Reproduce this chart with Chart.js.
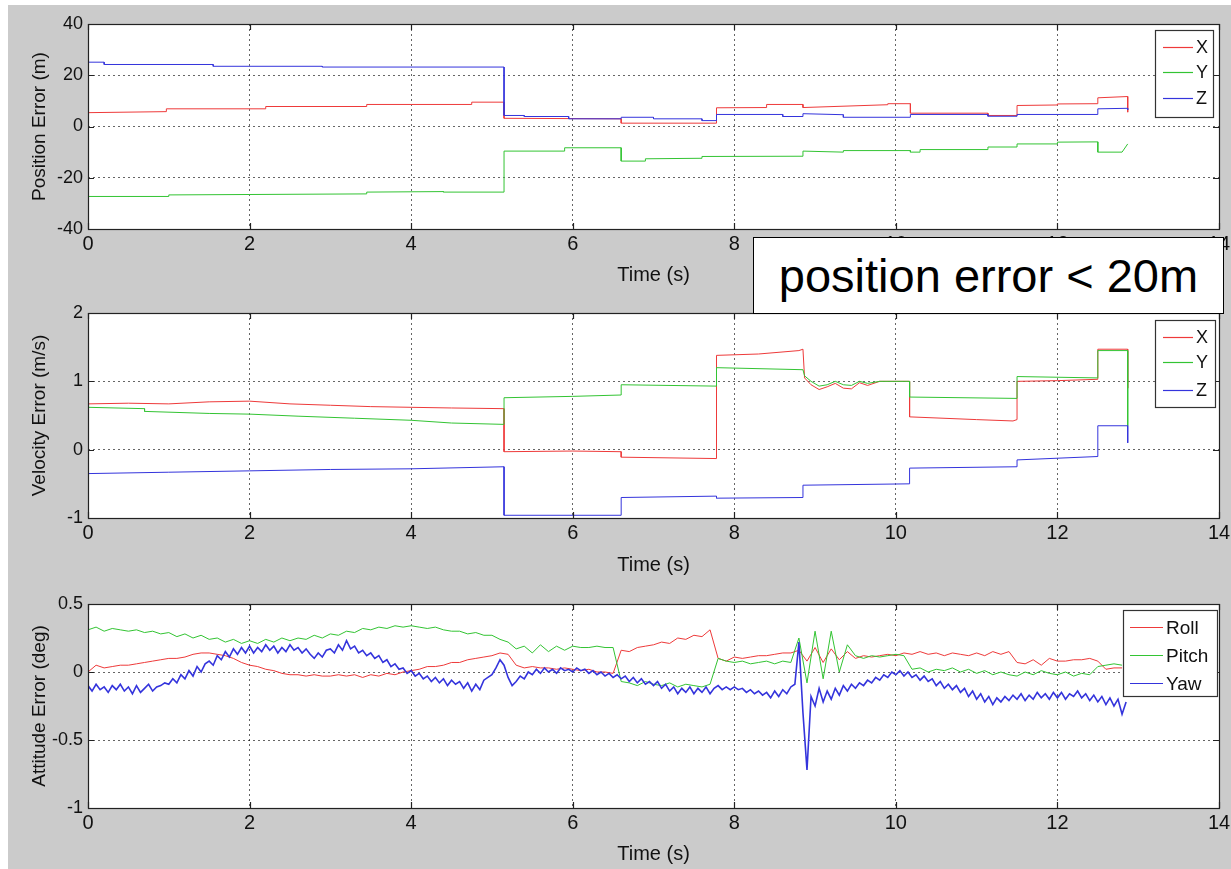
<!DOCTYPE html>
<html>
<head>
<meta charset="utf-8">
<title>Navigation errors</title>
<script src="https://cdn.jsdelivr.net/npm/chart.js@4.4.1/dist/chart.umd.min.js"></script>
<style>
  html,body{margin:0;padding:0;background:#fff;width:1231px;height:869px;overflow:hidden;}
  #fig{position:absolute;left:8px;top:5px;width:1223px;height:864px;background:#cbcbcb;}
  canvas{position:absolute;left:0;}
  #note{position:absolute;left:753px;top:237px;width:469px;height:75px;background:#fff;border:1.5px solid #000;
        font:47px "Liberation Sans",Arial,sans-serif;color:#000;text-align:center;line-height:75px;white-space:nowrap;}
</style>
</head>
<body>
<div id="fig"></div>
<canvas id="c-pos" width="1231" height="290" style="top:0"></canvas>
<canvas id="c-vel" width="1231" height="290" style="top:290px"></canvas>
<canvas id="c-att" width="1231" height="289" style="top:580px"></canvas>
<div id="note">position error &lt; 20m</div>
<script>
/* ---------- data ---------- */
// Position error (m): breakpoints [time s] / value
const posTimeX = [0,0.97,0.97,2.2,2.2,3.45,3.45,4.75,4.75,5.15,5.15,6.6,6.6,7.78,7.78,8.4,8.4,8.85,8.85,9.9,9.9,10.18,10.18,11.14,11.14,11.5,11.5,12.0,12.0,12.5,12.5,12.87,12.87];
const posX     = [5.4,5.8,6.9,6.9,7.8,7.8,8.6,8.6,9.5,9.5,3.2,3.0,1.3,1.3,7.3,7.4,8.6,8.6,7.4,8.5,8.9,8.9,5.2,5.2,4.3,4.3,8.2,8.4,8.8,8.9,11.2,11.7,5.6];
const posTimeY = [0,1.0,1.0,3.45,3.45,4.4,4.4,5.15,5.15,5.9,5.9,6.6,6.6,6.9,6.9,7.6,7.6,8.85,8.85,9.35,9.35,10.18,10.18,10.3,10.3,11.14,11.14,11.5,11.5,12.0,12.0,12.5,12.5,12.8,12.87];
const posY     = [-27.3,-27.3,-26.7,-26.3,-25.6,-25.4,-25.6,-25.6,-9.6,-9.6,-8.3,-8.3,-13.5,-13.5,-12.6,-12.4,-11.7,-11.6,-9.6,-10,-9.4,-9.4,-10,-10,-9,-9,-8,-8,-6.8,-6.8,-6.1,-6.0,-10,-10,-6.8];
const posTimeZ = [0,0.2,0.2,1.55,1.55,2.9,2.9,5.15,5.15,5.4,5.4,5.95,5.95,6.6,6.6,7.0,7.0,7.6,7.6,7.78,7.78,8.6,8.6,8.85,8.85,9.35,9.35,10.18,10.18,11.14,11.14,11.5,11.5,12.5,12.5,12.87,12.87];
const posZ     = [25.1,25.1,24.2,24.2,23.5,23.5,23.2,23.2,4.3,4.3,3.9,3.9,3.0,3.0,3.6,3.6,3.0,3.0,2.3,2.3,4.7,4.7,3.9,3.9,5.0,4.6,3.6,3.6,4.7,4.7,4.0,4.0,4.7,4.7,6.9,7.1,6.5];

// Velocity error (m/s)
const velTimeX = [0,0.5,1.0,1.5,2.0,2.5,3.0,3.5,4.0,4.5,5.15,5.15,6.0,6.6,6.6,7.78,7.78,8.3,8.8,8.85,8.87,8.95,9.05,9.15,9.25,9.35,9.45,9.55,9.65,9.8,10.17,10.17,11.0,11.45,11.5,11.5,12.0,12.5,12.5,12.87,12.87];
const velX     = [0.67,0.68,0.67,0.70,0.71,0.67,0.65,0.63,0.62,0.61,0.60,-0.03,-0.02,-0.03,-0.11,-0.13,1.38,1.40,1.45,1.47,1.05,0.95,0.88,0.92,0.97,0.90,0.89,0.98,0.94,1.0,1.0,0.48,0.44,0.42,0.44,1.0,1.01,1.03,1.47,1.47,0.9];
const velTimeY = [0,0.7,0.7,1.5,2.0,2.6,3.3,4.0,4.5,5.15,5.15,6.0,6.6,6.6,7.78,7.78,8.85,8.87,8.95,9.05,9.15,9.25,9.35,9.45,9.55,9.65,9.8,10.17,10.17,11.5,11.5,12.5,12.5,12.87,12.87];
const velY     = [0.62,0.60,0.56,0.53,0.52,0.49,0.46,0.43,0.39,0.37,0.76,0.78,0.80,0.95,0.93,1.20,1.17,1.08,1.0,0.93,0.95,1.0,0.95,0.94,1.0,0.97,1.0,1.0,0.77,0.75,1.07,1.05,1.45,1.45,0.35];
const velTimeZ = [0,1.0,2.0,3.0,4.0,5.15,5.15,6.6,6.6,7.78,7.78,8.85,8.85,10.17,10.17,11.5,11.5,12.5,12.5,12.87,12.87];
const velZ     = [-0.35,-0.33,-0.31,-0.29,-0.28,-0.25,-0.96,-0.96,-0.70,-0.68,-0.71,-0.70,-0.52,-0.50,-0.27,-0.25,-0.15,-0.10,0.35,0.35,0.10];

// Attitude error (deg), sampled every attRollDt / attYawDt seconds from t=0
const attRollDt = 0.1, attYawDt = 0.05;
const attRoll = [
  0.00,0.05,0.03,0.04,0.05,0.05,0.06,0.07,0.08,0.09,
  0.10,0.10,0.11,0.13,0.14,0.14,0.13,0.12,0.10,0.07,
  0.05,0.04,0.02,0.01,-0.01,-0.02,-0.02,-0.03,-0.02,-0.03,
  -0.03,-0.02,-0.03,-0.02,-0.04,-0.02,-0.03,-0.01,-0.02,0.00,
  0.01,0.02,0.04,0.04,0.05,0.07,0.07,0.09,0.10,0.11,
  0.12,0.14,0.13,0.05,0.03,0.04,0.03,0.03,0.02,0.03,
  0.02,0.01,0.02,0.00,0.00,-0.01,0.16,0.15,0.18,0.19,
  0.20,0.22,0.21,0.25,0.24,0.27,0.26,0.31,0.10,0.08,
  0.11,0.10,0.11,0.12,0.12,0.13,0.14,0.14,0.16,0.08,
  0.18,0.07,0.17,0.09,0.15,0.10,0.12,0.11,0.12,0.13,
  0.12,0.14,0.13,0.15,0.13,0.14,0.12,0.14,0.13,0.12,
  0.14,0.12,0.15,0.13,0.15,0.07,0.06,0.09,0.05,0.10,
  0.08,0.08,0.09,0.09,0.10,0.08,0.02,0.03,0.03
];
const attPitch = [
  0.31,0.33,0.30,0.32,0.31,0.30,0.31,0.29,0.30,0.28,
  0.29,0.26,0.28,0.25,0.27,0.24,0.25,0.22,0.24,0.21,
  0.23,0.21,0.24,0.22,0.25,0.23,0.25,0.24,0.27,0.25,
  0.28,0.27,0.30,0.29,0.32,0.31,0.33,0.32,0.34,0.33,
  0.34,0.33,0.32,0.33,0.31,0.30,0.30,0.28,0.29,0.27,
  0.27,0.24,0.22,0.17,0.19,0.14,0.20,0.15,0.19,0.16,
  0.19,0.18,0.18,0.19,0.18,0.18,-0.07,-0.08,-0.10,-0.07,
  -0.09,-0.10,-0.08,-0.11,-0.09,-0.10,-0.11,-0.09,0.10,0.08,
  0.07,0.08,0.06,0.07,0.08,0.06,0.08,0.07,0.25,-0.08,
  0.30,-0.05,0.30,0.00,0.20,0.12,0.10,0.12,0.11,0.12,
  0.13,0.12,0.02,0.03,0.00,0.02,0.01,0.03,0.00,0.02,
  -0.01,0.01,-0.02,0.00,-0.02,-0.03,0.00,-0.02,0.01,-0.01,
  -0.02,0.00,-0.03,-0.01,-0.02,0.04,0.05,0.06,0.05
];
const attYaw = [
  -0.10,-0.14,-0.09,-0.13,-0.11,-0.15,-0.10,-0.13,-0.09,-0.14,-0.11,-0.16,-0.10,-0.15,-0.12,-0.09,-0.14,-0.11,-0.10,-0.08,
  -0.09,-0.05,-0.08,-0.02,-0.05,0.01,-0.03,0.04,0.00,0.06,0.08,0.05,0.12,0.09,0.15,0.11,0.17,0.13,0.18,0.14,
  0.19,0.14,0.18,0.15,0.20,0.16,0.19,0.14,0.18,0.15,0.20,0.16,0.18,0.14,0.17,0.13,0.10,0.14,0.11,0.16,
  0.17,0.14,0.20,0.16,0.23,0.17,0.19,0.14,0.16,0.12,0.14,0.10,0.12,0.07,0.09,0.04,0.06,0.02,0.03,-0.01,
  0.01,-0.03,-0.01,-0.05,-0.03,-0.07,-0.04,-0.08,-0.05,-0.10,-0.06,-0.09,-0.07,-0.12,-0.08,-0.14,-0.09,-0.13,-0.06,-0.04,
  -0.02,0.03,0.09,0.05,-0.04,-0.10,-0.07,-0.03,-0.05,0.00,-0.02,0.02,-0.01,0.03,0.00,0.02,-0.01,0.03,0.01,0.02,
  0.00,0.03,0.01,0.02,-0.01,0.01,-0.02,0.00,-0.03,-0.01,-0.04,-0.02,-0.05,-0.03,-0.07,-0.04,-0.08,-0.05,-0.09,-0.07,
  -0.10,-0.07,-0.12,-0.09,-0.14,-0.11,-0.16,-0.12,-0.15,-0.11,-0.16,-0.12,-0.15,-0.11,-0.16,-0.12,-0.10,-0.13,-0.11,-0.13,
  -0.11,-0.13,-0.12,-0.15,-0.13,-0.16,-0.14,-0.17,-0.15,-0.19,-0.14,-0.18,-0.13,-0.16,-0.11,-0.09,0.22,-0.30,-0.72,-0.18,
  -0.25,-0.12,-0.22,-0.14,-0.20,-0.12,-0.17,-0.10,-0.14,-0.09,-0.12,-0.08,-0.10,-0.06,-0.08,-0.04,-0.06,-0.02,-0.04,0.00,
  -0.02,0.01,-0.03,0.00,-0.04,-0.02,-0.06,-0.03,-0.07,-0.05,-0.10,-0.07,-0.12,-0.09,-0.13,-0.10,-0.15,-0.12,-0.18,-0.14,
  -0.20,-0.16,-0.22,-0.18,-0.24,-0.19,-0.22,-0.18,-0.21,-0.17,-0.20,-0.16,-0.21,-0.17,-0.20,-0.15,-0.19,-0.16,-0.20,-0.15,
  -0.19,-0.15,-0.20,-0.16,-0.18,-0.14,-0.19,-0.16,-0.21,-0.17,-0.22,-0.18,-0.24,-0.19,-0.25,-0.20,-0.31,-0.22
];

const xTicks = {min:0, max:14, step:2};

/* ---------- look ---------- */
const FONT = '"Liberation Sans", Arial, Helvetica, sans-serif';
const RED = '#ee3a3a', GREEN = '#33c433', BLUE = '#3434dc';

function pts(ts, vs){ return vs.map((v,i) => ({x:ts[i], y:v})); }
function sampled(dt, vs){ return vs.map((v,i) => ({x:+(i*dt).toFixed(2), y:v})); }

// white axes box, matlab frame + inner ticks, boxed legend
const matlabAxes = {
  id:'matlabAxes',
  beforeDraw(chart){
    const a = chart.chartArea, c = chart.ctx;
    c.save(); c.fillStyle = '#fff';
    c.fillRect(a.left, a.top, a.right-a.left, a.bottom-a.top);
    c.restore();
  },
  afterDraw(chart, args, o){
    const a = chart.chartArea, c = chart.ctx;
    c.save();
    c.strokeStyle = '#222'; c.lineWidth = 1.2;
    c.strokeRect(a.left+0.5, a.top+0.5, a.right-a.left, a.bottom-a.top);
    c.beginPath();
    chart.scales.x.ticks.forEach(t => {
      const px = Math.round(chart.scales.x.getPixelForValue(t.value))+0.5;
      c.moveTo(px, a.bottom); c.lineTo(px, a.bottom-6);
      c.moveTo(px, a.top); c.lineTo(px, a.top+6);
    });
    chart.scales.y.ticks.forEach(t => {
      const py = Math.round(chart.scales.y.getPixelForValue(t.value))+0.5;
      c.moveTo(a.left, py); c.lineTo(a.left+6, py);
      c.moveTo(a.right, py); c.lineTo(a.right-6, py);
    });
    c.stroke();
    // legend
    const L = o.legend;
    c.fillStyle = '#fff'; c.fillRect(L.x, L.y, L.w, L.h);
    c.strokeStyle = '#333'; c.lineWidth = 1.2; c.strokeRect(L.x+0.5, L.y+0.5, L.w, L.h);
    c.font = L.size + 'px ' + FONT; c.textBaseline = 'middle'; c.textAlign = 'left';
    chart.data.datasets.forEach((ds, i) => {
      const ry = L.rows[i] + 0.5;
      c.strokeStyle = ds.borderColor; c.lineWidth = 1.2;
      c.beginPath(); c.moveTo(L.x+L.line[0], ry); c.lineTo(L.x+L.line[1], ry); c.stroke();
      c.fillStyle = '#111'; c.fillText(ds.label, L.x+L.line[1]+3, ry+1);
    });
    c.restore();
  }
};

function line(label, data, color, order, width){
  return {label:label, data:data, borderColor:color, backgroundColor:color, borderWidth:width || 1,
          pointRadius:0, tension:0, order:order};
}

function build(id, sets, y, lay){
  const grid = {color:'rgba(0,0,0,0.6)', lineWidth:1, drawTicks:false};
  return new Chart(document.getElementById(id), {
    type:'line',
    data:{datasets:sets},
    plugins:[matlabAxes],
    options:{
      responsive:false, animation:false, events:[],
      layout:{padding:{top:lay.top, right:12, left:0, bottom:0}},
      plugins:{legend:{display:false}, tooltip:{enabled:false}, matlabAxes:{legend:lay.legend}},
      scales:{
        x:{type:'linear', min:xTicks.min, max:xTicks.max,
           ticks:{stepSize:xTicks.step, color:'#111', font:{family:FONT, size:20}, padding:3, maxRotation:0, autoSkip:false},
           grid:grid, border:{display:false, dash:[2,3]},
           title:{display:true, text:'Time (s)', color:'#111', font:{family:FONT, size:20}, padding:{top:0, bottom:3}},
           afterFit:s => { s.height = lay.xh; s.paddingLeft = 0; s.paddingRight = 0; }},
        y:{type:'linear', min:y.min, max:y.max,
           ticks:{stepSize:y.step, color:'#111', font:{family:FONT, size:18}, padding:5, autoSkip:false,
                  callback:v => String(v)},
           grid:grid, border:{display:false, dash:[2,3]},
           title:{display:true, text:y.title, color:'#111', font:{family:FONT, size:19}, padding:{top:28, bottom:0}},
           afterFit:s => { s.width = 88; }}
      }
    }
  });
}

build('c-pos', [
  line('X', pts(posTimeX, posX), RED, 3),
  line('Y', pts(posTimeY, posY), GREEN, 2),
  line('Z', pts(posTimeZ, posZ), BLUE, 1)
], {min:-40, max:40, step:20, title:'Position Error (m)'},
   {top:24, xh:61, legend:{x:1155, y:30, w:58, h:87, rows:[47,72,98], line:[8,38], size:18}});

build('c-vel', [
  line('X', pts(velTimeX, velX), RED, 3),
  line('Y', pts(velTimeY, velY), GREEN, 2),
  line('Z', pts(velTimeZ, velZ), BLUE, 1)
], {min:-1, max:2, step:1, title:'Velocity Error (m/s)'},
   {top:23, xh:62, legend:{x:1155, y:30, w:60, h:87, rows:[47,72,100], line:[8,38], size:18}});

build('c-att', [
  line('Roll', sampled(attRollDt, attRoll), RED, 3),
  line('Pitch', sampled(attRollDt, attPitch), GREEN, 2),
  line('Yaw', sampled(attYawDt, attYaw), BLUE, 1, 1.6)
], {min:-1, max:0.5, step:0.5, title:'Attitude Error (deg)'},
   {top:24, xh:61, legend:{x:1123, y:30, w:94, h:86, rows:[47,75,103], line:[7,40], size:19}});
</script>
</body>
</html>
